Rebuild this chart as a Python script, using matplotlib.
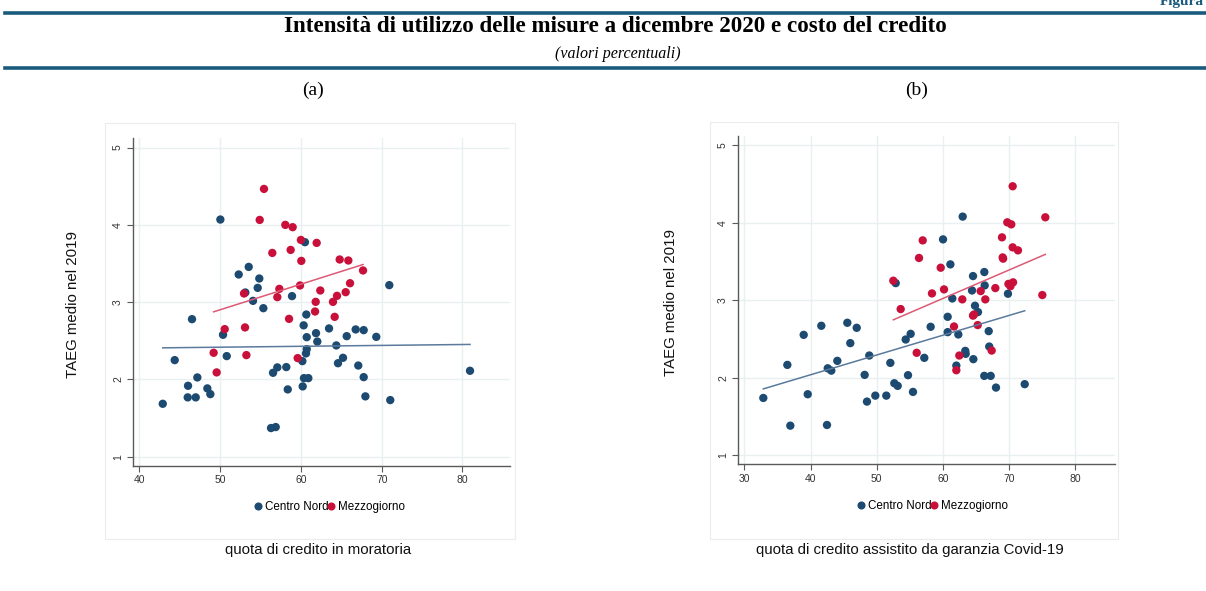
import matplotlib
matplotlib.use("Agg")
import matplotlib.pyplot as plt
from matplotlib.patches import Rectangle
from matplotlib.lines import Line2D
import numpy as np

# ---------------- data ----------------
# Panel (a): quota di credito in moratoria vs TAEG
a_cn_x = [50.03, 60.5, 52.3, 53.54, 54.85, 54.65, 53.12, 58.9, 54.07, 55.35, 70.94, 60.67, 46.52,
          50.36, 60.34, 60.72, 61.87, 62.03, 63.48, 65.67, 66.78, 67.77, 69.33, 64.38, 60.72, 60.63,
          50.82, 44.38, 60.18, 64.59, 65.21, 67.1, 56.55, 57.08, 58.19, 47.18, 46.03, 48.42, 48.79,
          45.99, 46.98, 42.9, 58.37, 60.22, 60.38, 60.92, 67.77, 67.98, 71.06, 80.93, 56.3, 56.88]
a_cn_y = [4.069, 3.776, 3.358, 3.456, 3.306, 3.185, 3.125, 3.078, 3.017, 2.922, 3.22, 2.84, 2.78,
          2.578, 2.70, 2.547, 2.599, 2.49, 2.66, 2.56, 2.647, 2.638, 2.551, 2.44, 2.392, 2.337,
          2.302, 2.25, 2.237, 2.21, 2.28, 2.18, 2.086, 2.156, 2.16, 2.026, 1.918, 1.884, 1.81,
          1.768, 1.768, 1.685, 1.871, 1.91, 2.017, 2.017, 2.03, 1.781, 1.733, 2.112, 1.371, 1.384]
a_mz_x = [55.43, 54.9, 58.07, 58.98, 60.0, 61.95, 56.46, 58.73, 60.05, 64.8, 65.87, 67.69, 66.08,
          59.89, 57.33, 62.4, 52.96, 65.54, 64.47, 57.08, 61.83, 63.97, 61.75, 64.18, 58.53, 50.57,
          53.08, 49.2, 53.25, 59.6, 49.57]
a_mz_y = [4.465, 4.064, 4.0, 3.97, 3.805, 3.767, 3.637, 3.676, 3.534, 3.552, 3.539, 3.41, 3.245,
          3.216, 3.172, 3.151, 3.112, 3.129, 3.082, 3.065, 3.004, 3.004, 2.879, 2.81, 2.784, 2.651,
          2.673, 2.345, 2.315, 2.276, 2.091]
a_fit_cn = [2.409, 2.453]   # linear fit values at min / max x
a_fit_mz = [2.875, 3.487]

# Panel (b): quota di credito assistito da garanzia Covid-19 vs TAEG
b_cn_x = [32.87, 36.95, 42.49, 39.58, 36.5, 38.97, 41.63, 45.56, 46.98, 46.01, 42.6, 43.14, 44.05,
          48.88, 48.18, 48.53, 49.79, 51.45, 52.06, 52.66, 53.17, 52.87, 62.99, 60.02, 61.13, 64.55,
          66.26, 66.31, 64.4, 69.83, 61.42, 64.85, 65.3, 60.72, 66.92, 60.72, 62.33, 58.15, 55.13,
          54.38, 57.19, 67.0, 63.38, 63.44, 64.6, 62.03, 54.73, 55.48, 66.25, 67.22, 68.02, 72.36]
b_cn_y = [1.737, 1.379, 1.388, 1.785, 2.164, 2.552, 2.669, 2.708, 2.643, 2.445, 2.12, 2.09, 2.216,
          2.285, 2.035, 1.69, 1.767, 1.767, 2.19, 1.927, 1.893, 3.22, 4.079, 3.785, 3.462, 3.311,
          3.363, 3.19, 3.125, 3.083, 3.022, 2.928, 2.846, 2.785, 2.6, 2.587, 2.557, 2.656, 2.565,
          2.492, 2.255, 2.401, 2.345, 2.307, 2.238, 2.155, 2.031, 1.815, 2.022, 2.022, 1.871, 1.915]
b_mz_x = [70.54, 75.47, 69.73, 70.33, 68.93, 56.95, 70.54, 71.34, 56.39, 69.03, 69.1, 59.67, 52.51,
          67.92, 60.17, 58.35, 65.71, 69.9, 70.6, 70.2, 75.02, 62.93, 66.41, 53.62, 64.55, 64.7,
          65.26, 61.68, 56.04, 67.37, 62.48, 62.03]
b_mz_y = [4.471, 4.07, 4.005, 3.979, 3.811, 3.772, 3.682, 3.643, 3.545, 3.552, 3.536, 3.419, 3.251,
          3.156, 3.139, 3.087, 3.117, 3.21, 3.23, 3.18, 3.066, 3.01, 3.01, 2.885, 2.80, 2.815,
          2.678, 2.66, 2.32, 2.349, 2.285, 2.095]
b_fit_cn = [1.854, 2.863]
b_fit_mz = [2.746, 3.591]

legend_labels = ["Centro Nord", "Mezzogiorno"]
y_ticks = [1, 2, 3, 4, 5]
a_x_ticks = [40, 50, 60, 70, 80]
b_x_ticks = [30, 40, 50, 60, 70, 80]

title = "Intensità di utilizzo delle misure a dicembre 2020 e costo del credito"
subtitle = "(valori percentuali)"
ylabel = "TAEG medio nel 2019"
a_xlabel = "quota di credito in moratoria"
b_xlabel = "quota di credito assistito da garanzia Covid-19"

# ---------------- style ----------------
BLUE = "#1c4a71"
RED = "#c8103a"
BLUE_LINE = "#5b7a9c"
RED_LINE = "#dc5a74"
HEAD = "#1a5a7c"
GRID = "#e8f0f2"
W, H = 1206, 591
SERIF = ["Liberation Serif", "DejaVu Serif"]

plt.rcParams["font.family"] = ["Liberation Sans", "DejaVu Sans"]
fig = plt.figure(figsize=(W / 100, H / 100), dpi=100)


def fx(px):
    return px / W


def fy(py):
    return 1 - py / H


# header
fig.add_artist(Line2D([fx(5), 1.0], [fy(12.5), fy(12.5)], color=HEAD, lw=2.6))
fig.add_artist(Line2D([fx(5), 1.0], [fy(67.5), fy(67.5)], color=HEAD, lw=2.6))
fig.text(fx(1204), fy(5), "Figura", ha="right", va="baseline", color=HEAD,
         fontsize=11, fontweight="bold", family=SERIF)
fig.text(fx(615), fy(27), title, ha="center", va="center", fontsize=16.6,
         fontweight="bold", family=SERIF)
fig.text(fx(618), fy(54), subtitle, ha="center", va="center", fontsize=11.5,
         style="italic", family=SERIF)
fig.text(fx(313), fy(90), "(a)", ha="center", va="center", fontsize=14, family=SERIF)
fig.text(fx(917), fy(90), "(b)", ha="center", va="center", fontsize=14, family=SERIF)


def panel(box, axpix, xlim, xticks, cn_x, cn_y, mz_x, mz_y, fit_cn, fit_mz,
          leg_center, xlab, xlab_pos, ylab_pos):
    # light graph-region box
    bx0, by0, bx1, by1 = box
    fig.add_artist(Rectangle((fx(bx0), fy(by1)), fx(bx1 - bx0), (by1 - by0) / H,
                             transform=fig.transFigure, fill=False,
                             edgecolor="#ececec", lw=0.8))
    l, t, r, b = axpix
    ax = fig.add_axes([fx(l), fy(b), fx(r - l), (b - t) / H])
    ax.set_xlim(*xlim)
    ax.set_ylim(0.884, 5.12)
    ax.set_xticks(xticks)
    ax.set_yticks(y_ticks)
    ax.grid(True, color=GRID, lw=1.0)
    ax.set_axisbelow(True)
    for s in ["top", "right"]:
        ax.spines[s].set_visible(False)
    for s in ["left", "bottom"]:
        ax.spines[s].set_color("#5a5a5a")
        ax.spines[s].set_linewidth(1.0)
    ax.tick_params(axis="both", length=4, width=0.8, color="#5a5a5a",
                   labelsize=7.5, labelcolor="#333333", pad=3)
    for lab in ax.get_yticklabels():
        lab.set_rotation(90)
        lab.set_va("center")
    ax.scatter(cn_x, cn_y, s=36, color=BLUE, edgecolors="none", zorder=3)
    ax.scatter(mz_x, mz_y, s=36, color=RED, edgecolors="none", zorder=3)
    ax.plot([min(cn_x), max(cn_x)], fit_cn, color=BLUE_LINE, lw=1.1, zorder=4)
    ax.plot([min(mz_x), max(mz_x)], fit_mz, color=RED_LINE, lw=1.1, zorder=4)
    handles = [Line2D([], [], marker="o", ls="", color=BLUE, markersize=4.8),
               Line2D([], [], marker="o", ls="", color=RED, markersize=4.8)]
    fig.legend(handles, legend_labels, loc="center",
               bbox_to_anchor=(fx(leg_center[0]), fy(leg_center[1])),
               ncol=2, frameon=False, fontsize=8.4, handletextpad=0.1,
               columnspacing=-0.3, handlelength=1.0, borderpad=0)
    fig.text(fx(xlab_pos[0]), fy(xlab_pos[1]), xlab, ha="center", va="center",
             fontsize=10.8, color="#111111")
    fig.text(fx(ylab_pos[0]), fy(ylab_pos[1]), ylabel, ha="center", va="center",
             rotation=90, fontsize=10.8, color="#111111")
    return ax


panel((105, 123, 515, 539), (132.7, 138.3, 510, 465.7), (39.18, 85.88), a_x_ticks,
      a_cn_x, a_cn_y, a_mz_x, a_mz_y, a_fit_cn, a_fit_mz,
      (329, 507), a_xlabel, (318, 550), (73, 305))
panel((710, 122, 1118, 539), (737.7, 136, 1115, 464), (29.0, 86.0), b_x_ticks,
      b_cn_x, b_cn_y, b_mz_x, b_mz_y, b_fit_cn, b_fit_mz,
      (932, 506), b_xlabel, (910, 550), (671, 302))

fig.savefig("out.png", dpi=100)
